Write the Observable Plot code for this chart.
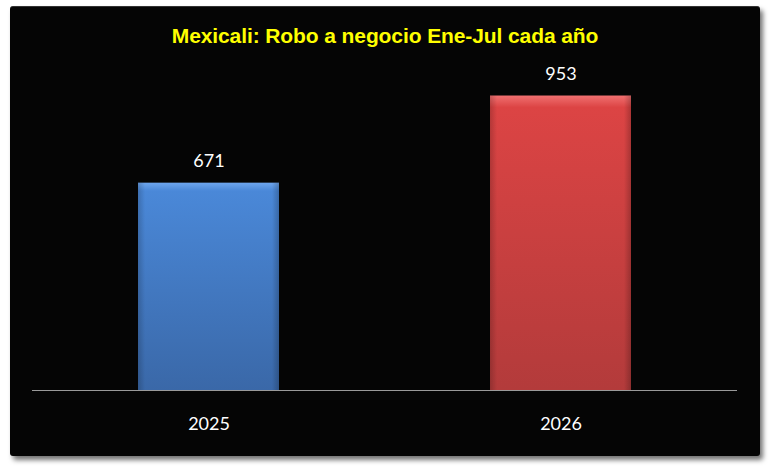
<!DOCTYPE html>
<html><head><meta charset="utf-8">
<script src="https://cdn.jsdelivr.net/npm/d3@7"></script>
<script src="https://cdn.jsdelivr.net/npm/@observablehq/plot@0.6"></script>
<style>
html,body{margin:0;padding:0;background:#fff;}
#wrap{position:relative;width:770px;height:471px;overflow:hidden;}
#box{position:absolute;left:10px;top:6px;width:750px;height:449px;background:#050505;border-radius:3px;
 box-shadow:3px 4px 5px rgba(0,0,0,0.55);border-top:1px solid #333;}
#title{position:absolute;left:0;top:24px;width:770px;text-align:center;font-family:"Liberation Sans",Arial,sans-serif;
 font-weight:bold;font-size:21px;color:#ffff00;letter-spacing:-0.1px;}
#chart{position:absolute;left:0;top:0;}
</style></head>
<body>
<div id="wrap"><div id="box"></div><div id="chart"></div><div id="title">Mexicali: Robo a negocio Ene-Jul cada año</div></div>
<script>
const years = ["2025", "2026"];
const values = [671, 953];
const gradIds = ["gBlue", "gRed"];
const data = years.map((y, i) => ({year: y, value: values[i], grad: gradIds[i]}));

const defs = () => {
  const d = d3.create("svg:defs");
  const mk = (id, c1, c2, c3) => {
    const g = d.append("linearGradient").attr("id", id).attr("x1", 0).attr("y1", 0).attr("x2", 0).attr("y2", 1);
    g.append("stop").attr("offset", "0%").attr("stop-color", c1);
    g.append("stop").attr("offset", "4%").attr("stop-color", c2);
    g.append("stop").attr("offset", "100%").attr("stop-color", c3);
  };
  mk("gBlue", "#6ea6ee", "#4a88d8", "#3a68a8");
  mk("gRed", "#f07070", "#dc4444", "#b33b3b");
  const s = d.append("linearGradient").attr("id", "gSide").attr("x1", 0).attr("y1", 0).attr("x2", 1).attr("y2", 0);
  s.append("stop").attr("offset", "0%").attr("stop-color", "#000").attr("stop-opacity", 0.18);
  s.append("stop").attr("offset", "5%").attr("stop-color", "#000").attr("stop-opacity", 0);
  s.append("stop").attr("offset", "95%").attr("stop-color", "#000").attr("stop-opacity", 0);
  s.append("stop").attr("offset", "100%").attr("stop-color", "#000").attr("stop-opacity", 0.22);
  return d.node();
};

const plot = Plot.plot({
  width: 770,
  height: 471,
  marginLeft: 32,
  marginRight: 33,
  marginTop: 81,
  marginBottom: 81,
  style: {background: "transparent", color: "#fff", fontFamily: "Lato, sans-serif"},
  x: {domain: years, paddingInner: 0.6, paddingOuter: 0.3, label: null},
  y: {domain: [0, 1000], axis: null},
  marks: [
    defs,
    Plot.barY(data, {x: "year", y: "value", fill: d => `url(#${d.grad})`}),
    Plot.barY(data, {x: "year", y: "value", fill: "url(#gSide)"}),
    Plot.ruleY([0], {stroke: "#9a9a9a", strokeWidth: 1}),
    Plot.text(data, {x: "year", y: "value", text: d => String(d.value), dy: -22, fill: "#fff", fontSize: 18}),
    Plot.axisX({tickSize: 0, tickPadding: 27, fontSize: 18, fill: "#fff", label: null})
  ]
});
document.getElementById("chart").appendChild(plot);
</script>
</body></html>
